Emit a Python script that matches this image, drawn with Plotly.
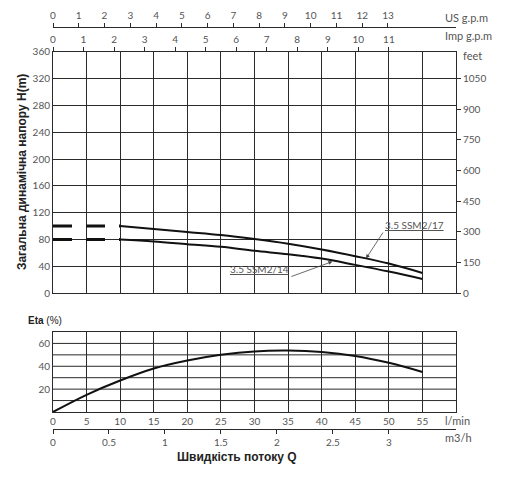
import plotly.graph_objects as go

# pump head curves (Q in l/min, H in m)
q_dash = [0, 10]
h_dash_17 = [100, 100]
h_dash_14 = [80, 80]
q_curve = [10, 15, 20, 25, 30, 35, 40, 45, 50, 55]
h_17 = [100, 95.5, 91, 86.5, 80.5, 73.5, 65, 55, 44, 30]
h_14 = [80, 77, 73, 69, 63, 58, 51.5, 42, 32, 21]

# efficiency curve
q_eta = [0, 5, 10, 15, 20, 25, 30, 35, 40, 45, 50, 55]
eta = [0, 15, 27.5, 38, 45, 50, 53, 53.7, 52.5, 49, 43, 35]

# axis ticks
lmin_ticks = [0, 5, 10, 15, 20, 25, 30, 35, 40, 45, 50, 55]
m3h_ticks = [0, 0.5, 1, 1.5, 2, 2.5, 3]
m3h_labels = ["0", "0.5", "1", "1.5", "2", "2.5", "3"]
us_ticks = list(range(0, 14))
imp_ticks = list(range(0, 12))
h_ticks = [0, 40, 80, 120, 160, 200, 240, 280, 320, 360]
feet_ticks = [0, 150, 300, 450, 600, 750, 900, 1050]
eta_ticks = [20, 40, 60]

GRID = "#2a2a2a"
TXT = "#555555"
tick_font = dict(family="Lato", size=10, color=TXT)

fig = go.Figure()

line_style = dict(color="#111111", width=2)
fig.add_trace(go.Scatter(x=q_dash, y=h_dash_17, mode="lines",
                         line=dict(color="#111111", width=3, dash="19px,14px"),
                         xaxis="x", yaxis="y", hoverinfo="skip"))
fig.add_trace(go.Scatter(x=q_dash, y=h_dash_14, mode="lines",
                         line=dict(color="#111111", width=3, dash="19px,14px"),
                         xaxis="x", yaxis="y", hoverinfo="skip"))
fig.add_trace(go.Scatter(x=q_curve, y=h_17, mode="lines", line_shape="spline",
                         line=line_style, xaxis="x", yaxis="y"))
fig.add_trace(go.Scatter(x=q_curve, y=h_14, mode="lines", line_shape="spline",
                         line=line_style, xaxis="x", yaxis="y"))
fig.add_trace(go.Scatter(x=q_eta, y=eta, mode="lines", line_shape="spline",
                         line=line_style, xaxis="x2", yaxis="y2"))

# invisible helpers so the secondary unit axes get drawn
for xa, ya in [("x5", "y"), ("x3", "y"), ("x", "y3"), ("x4", "y2")]:
    fig.add_trace(go.Scatter(x=[0], y=[0], mode="markers", marker=dict(opacity=0),
                             xaxis=xa, yaxis=ya, hoverinfo="skip"))

top_dom = [0.3325, 0.9218]
bot_dom = [0.0416, 0.2372]

fig.update_layout(
    width=504, height=483,
    margin=dict(l=45, r=56, t=12, b=62, autoexpand=False),
    paper_bgcolor="white", plot_bgcolor="white",
    showlegend=False,
    xaxis=dict(domain=[0, 1], range=[0, 60], anchor="y", dtick=5,
               showgrid=True, gridcolor=GRID, gridwidth=1,
               showline=True, linecolor=GRID, linewidth=1, mirror=True,
               showticklabels=False, ticks="", zeroline=False, automargin=False),
    yaxis=dict(domain=top_dom, range=[0, 360], anchor="x",
               tickvals=h_ticks, showgrid=True, gridcolor=GRID, gridwidth=1,
               showline=True, linecolor=GRID, linewidth=1, mirror=True,
               ticks="", tickfont=tick_font, zeroline=False, automargin=False),
    yaxis3=dict(overlaying="y", side="right", anchor="x",
                range=[0, 360 * 3.28084], tickvals=feet_ticks,
                showgrid=False, zeroline=False, showline=False, automargin=False,
                ticks="outside", ticklen=4, tickcolor=GRID, tickfont=tick_font),
    xaxis5=dict(overlaying="x", side="top", anchor="y", range=[0, 60 / 4.54609],
                tickvals=imp_ticks, showgrid=False, zeroline=False, showline=False,
                automargin=False,
                ticks="outside", ticklen=4, tickcolor=GRID, tickfont=tick_font),
    xaxis3=dict(overlaying="x", side="top", anchor="free", position=0.983,
                range=[0, 15.64], tickvals=us_ticks, showgrid=False, zeroline=False,
                showline=True, linecolor=GRID, linewidth=1, automargin=False,
                ticks="outside", ticklen=4, tickcolor=GRID, tickfont=tick_font),
    xaxis2=dict(domain=[0, 1], range=[0, 60], anchor="y2", tickvals=lmin_ticks,
                showgrid=True, gridcolor=GRID, gridwidth=1,
                showline=True, linecolor=GRID, linewidth=1, mirror=True,
                ticks="", tickfont=tick_font, zeroline=False, automargin=False),
    yaxis2=dict(domain=bot_dom, range=[0, 70], anchor="x2",
                tickvals=eta_ticks, showgrid=False,
                showline=True, linecolor=GRID, linewidth=1, mirror=True,
                ticks="", tickfont=tick_font, zeroline=False, automargin=False),
    xaxis4=dict(overlaying="x2", side="bottom", anchor="free", position=0,
                range=[0, 3.6], tickvals=m3h_ticks, ticktext=m3h_labels,
                showgrid=False, zeroline=False, showline=True, linecolor=GRID,
                linewidth=1, ticks="outside", ticklen=4, tickcolor=GRID,
                tickfont=tick_font, automargin=False),
)

# horizontal grid of efficiency panel (every 10 %)
for v in range(10, 70, 10):
    fig.add_shape(type="line", xref="x2 domain", yref="y2", x0=0, x1=1, y0=v, y1=v,
                  line=dict(color=GRID, width=1), layer="below")

unit_font = dict(family="Lato", size=11, color=TXT)
ann = [
    dict(text="<b>Загальна динамічна напору H(m)</b>", x=-0.077, y=0.628,
         textangle=-90, xanchor="center", yanchor="middle",
         font=dict(family="Liberation Sans", size=12, color="#222222")),
    dict(text="<b>Eta</b> (%)", x=-0.067, y=0.2665, xanchor="left", yanchor="middle",
         font=dict(family="Liberation Sans", size=10, color="#222222")),
    dict(text="<b>Швидкість потоку Q</b>", x=0.4566, y=-0.0685,
         xanchor="center", yanchor="middle",
         font=dict(family="Liberation Sans", size=12, color="#222222")),
    dict(text="l/min", x=0.9677, y=0.022, xanchor="left", yanchor="middle", font=unit_font),
    dict(text="m3/h", x=0.9677, y=-0.022, xanchor="left", yanchor="middle", font=unit_font),
    dict(text="US g.p.m", x=0.9677, y=1.0073, xanchor="left", yanchor="middle", font=unit_font),
    dict(text="Imp g.p.m", x=0.9677, y=0.963, xanchor="left", yanchor="middle", font=unit_font),
    dict(text="feet", x=1.0124, y=0.914, xanchor="left", yanchor="middle", font=unit_font),
]
for a in ann:
    fig.add_annotation(xref="paper", yref="paper", showarrow=False, **a)

# curve labels with leader lines
fig.add_annotation(x=46.6, y=51.5, xref="x", yref="y", text="<u>3.5 SSM2/17</u>",
                   showarrow=True, ax=17, ay=-26, xanchor="left", yanchor="bottom",
                   arrowhead=2, arrowsize=1, arrowwidth=0.8, arrowcolor="#444444",
                   font=dict(family="Lato", size=10, color=TXT))
fig.add_annotation(x=41.6, y=47, xref="x", yref="y", text="<u>3.5 SSM2/14</u>",
                   showarrow=True, ax=-41, ay=15, xanchor="right", yanchor="bottom",
                   arrowhead=2, arrowsize=1, arrowwidth=0.8, arrowcolor="#444444",
                   font=dict(family="Lato", size=10, color=TXT))

fig.write_html("out.html")
